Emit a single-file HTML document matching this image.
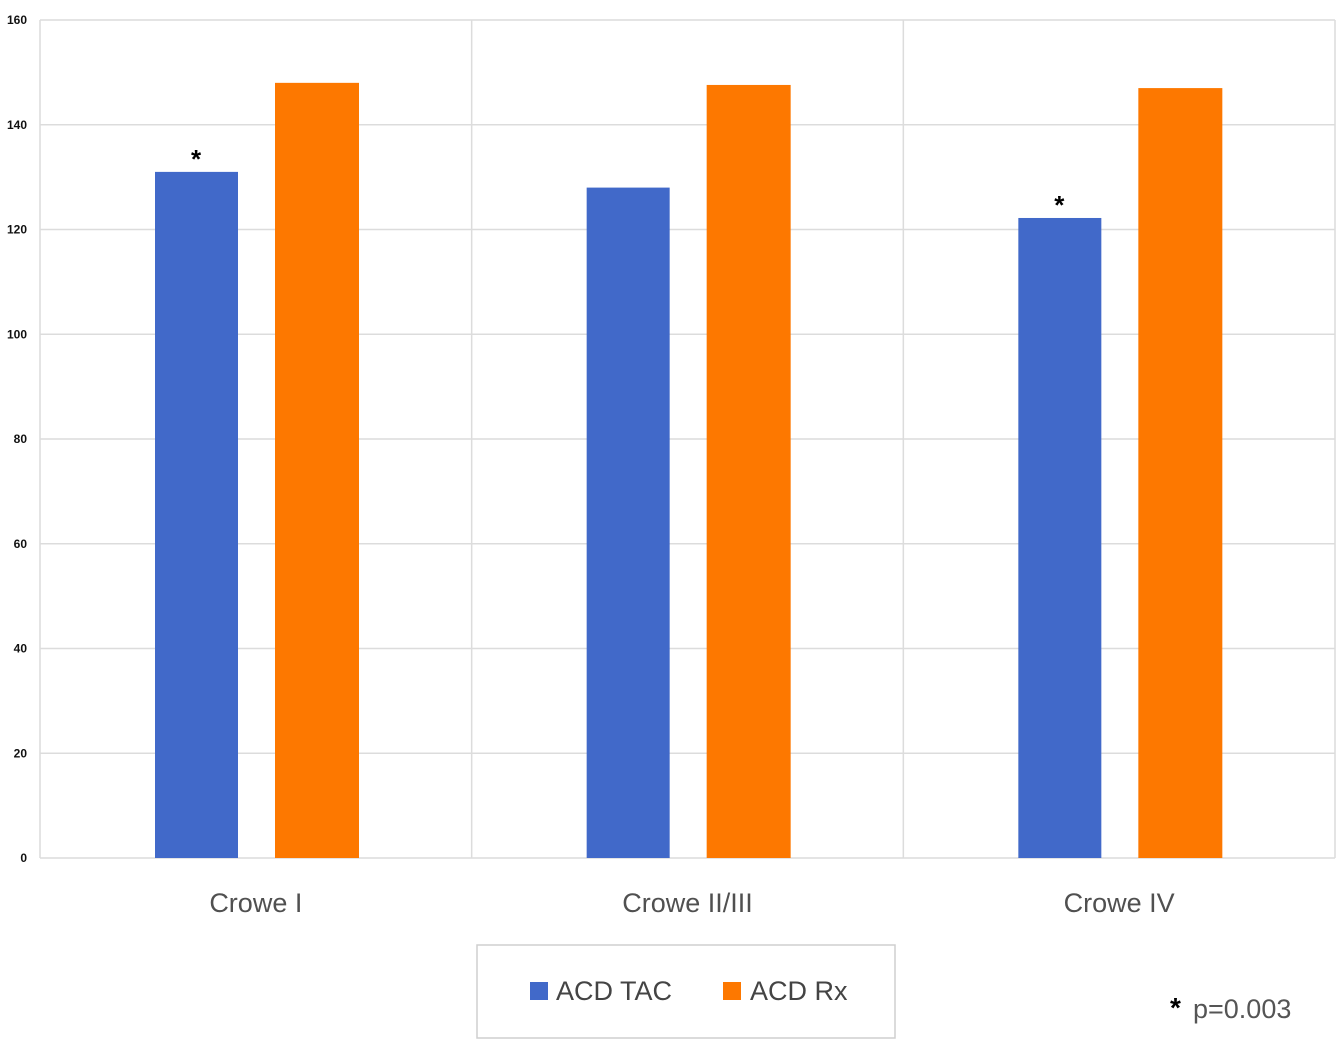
<!DOCTYPE html>
<html><head><meta charset="utf-8"><style>
body{margin:0;background:#fff;}
svg text{font-family:"Liberation Sans",sans-serif;}
</style></head><body>
<svg id="chart" width="1341" height="1053" xmlns="http://www.w3.org/2000/svg">
<g id="grid"></g>
<g id="ylabels"></g>
<g id="bars"></g>
<g id="xlabels"></g>
<g>
<rect x="477" y="945" width="418" height="93" fill="#fff" stroke="#cfcfcf" stroke-width="1.5"/>
<rect x="530" y="982" width="18" height="18" fill="#4169c9"/>
<text x="556" y="1000" font-size="27" fill="#444">ACD TAC</text>
<rect x="723" y="982" width="18" height="18" fill="#fd7800"/>
<text x="750" y="1000" font-size="27" fill="#444">ACD Rx</text>
</g>
<text x="1170" y="1017" font-size="28" font-weight="bold" fill="#000">*</text>
<text x="1193" y="1018" font-size="27" fill="#555">p=0.003</text>
</svg>
<script>
const categories=["Crowe I","Crowe II/III","Crowe IV"];
const acdTac=[131,128,122.2];
const acdRx=[148,147.6,147];
const significant=[true,false,true];
const yTicks=[0,20,40,60,80,100,120,140,160];
const NS="http://www.w3.org/2000/svg";
const L=40,R=1335,T=20,B=858,yMax=160;
const y=v=>B-(v/yMax)*(B-T);
const bw=(R-L)/categories.length;
function mk(tag,attrs,parent){const e=document.createElementNS(NS,tag);for(const k in attrs)e.setAttribute(k,attrs[k]);parent.appendChild(e);return e;}
const grid=document.getElementById('grid'),yl=document.getElementById('ylabels'),bars=document.getElementById('bars'),xl=document.getElementById('xlabels');
yTicks.forEach(t=>{
 const ln=mk('line',{x1:L,x2:R,y1:y(t),y2:y(t),stroke:'#dcdcdc','stroke-width':1.5},grid);
 
 
 const tx=mk('text',{x:27,y:y(t)+4,'font-size':12,'text-anchor':'end',fill:'#111','font-weight':'bold'},yl);
 tx.textContent=t;
 
 
});
for(let i=0;i<=categories.length;i++){
 const ln=mk('line',{x1:L+i*bw,x2:L+i*bw,y1:T,y2:B,stroke:'#dcdcdc','stroke-width':1.5},grid);
 
 
}
categories.forEach((c,i)=>{
 const x0=L+i*bw;
 const b1=mk('rect',{x:x0+115,y:y(acdTac[i]),width:83,height:B-y(acdTac[i]),fill:'#4169c9'},bars);
 
 
 const b2=mk('rect',{x:x0+235,y:y(acdRx[i]),width:84,height:B-y(acdRx[i]),fill:'#fd7800'},bars);
 
 
 if(significant[i]){
  const s=mk('text',{x:x0+156,y:y(acdTac[i])-4,'font-size':26,'font-weight':'bold','text-anchor':'middle',fill:'#000'},bars);
  s.textContent='*';
  
  
 }
 const t=mk('text',{x:x0+bw/2,y:912,'font-size':27,'text-anchor':'middle',fill:'#505050'},xl);
 t.textContent=c;
 
 
});
</script>
</body></html>
